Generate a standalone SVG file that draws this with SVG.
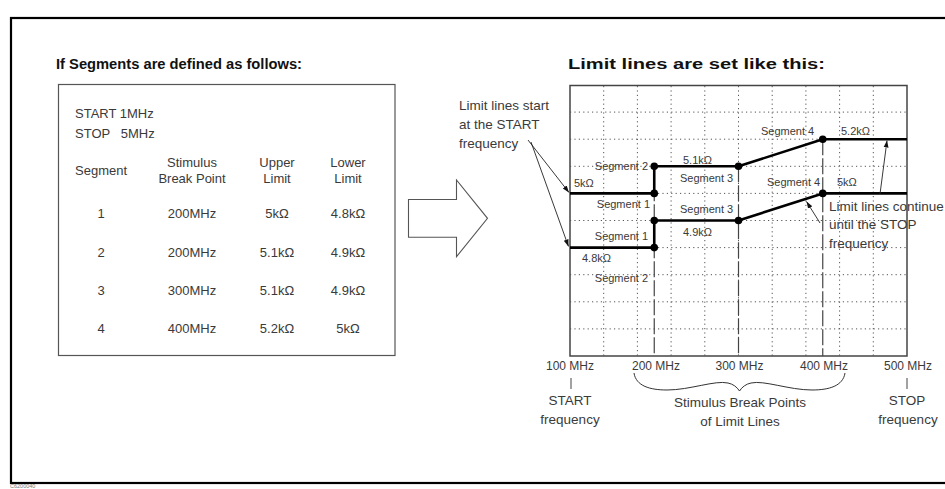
<svg xmlns="http://www.w3.org/2000/svg" width="945" height="489" viewBox="0 0 945 489">
<defs>
<marker id="ah" viewBox="0 0 10 10" refX="10" refY="5" markerWidth="7" markerHeight="7" orient="auto" markerUnits="userSpaceOnUse"><path d="M0,1.5 L10,5 L0,8.5 z" fill="#111"/></marker>
<style>
text{font-family:"Liberation Sans",Arial,sans-serif;fill:#3a3a3a}
.title{font-size:14.5px;font-weight:bold;fill:#111}
.tb{font-size:13px}
.c{text-anchor:middle}
.e{text-anchor:end}
.sm{font-size:11px}
.note{font-size:13.5px}
.ax{font-size:12px}
.grid{stroke:#555;stroke-width:1;stroke-dasharray:1.2 3.2;fill:none}
.brk{stroke:#444;stroke-width:1.2;stroke-dasharray:16 3;fill:none}
.lim{stroke:#000;stroke-width:2.6;fill:none;stroke-linejoin:round}
.ptr{stroke:#222;stroke-width:0.9;fill:none;marker-end:url(#ah)}
.dot{fill:#000}
</style>
</defs>
<rect x="0" y="0" width="945" height="489" fill="#fff"/>
<rect x="11" y="18" width="940" height="465" fill="none" stroke="#000" stroke-width="2.2"/>
<text x="10" y="488" style="font-size:5.5px;fill:#777">C6200040</text>

<text class="title" x="56" y="69" textLength="246" lengthAdjust="spacingAndGlyphs">If Segments are defined as follows:</text>
<text class="title" x="568" y="69" textLength="257" lengthAdjust="spacingAndGlyphs">Limit lines are set like this:</text>

<g id="segment-table">
<rect x="58.5" y="84.5" width="336.5" height="271" fill="none" stroke="#555" stroke-width="1.2"/>
<text class="tb" x="75" y="118">START 1MHz</text>
<text class="tb" x="75" y="138" xml:space="preserve">STOP   5MHz</text>
<text class="tb" x="75" y="175">Segment</text>
<text class="tb c" x="192" y="167">Stimulus</text>
<text class="tb c" x="192" y="183">Break Point</text>
<text class="tb c" x="277" y="167">Upper</text>
<text class="tb c" x="277" y="183">Limit</text>
<text class="tb c" x="348" y="167">Lower</text>
<text class="tb c" x="348" y="183">Limit</text>
<text class="tb c" x="101" y="218">1</text><text class="tb c" x="192" y="218">200MHz</text><text class="tb c" x="277" y="218">5kΩ</text><text class="tb c" x="348" y="218">4.8kΩ</text>
<text class="tb c" x="101" y="257">2</text><text class="tb c" x="192" y="257">200MHz</text><text class="tb c" x="277" y="257">5.1kΩ</text><text class="tb c" x="348" y="257">4.9kΩ</text>
<text class="tb c" x="101" y="295">3</text><text class="tb c" x="192" y="295">300MHz</text><text class="tb c" x="277" y="295">5.1kΩ</text><text class="tb c" x="348" y="295">4.9kΩ</text>
<text class="tb c" x="101" y="333">4</text><text class="tb c" x="192" y="333">400MHz</text><text class="tb c" x="277" y="333">5.2kΩ</text><text class="tb c" x="348" y="333">5kΩ</text>
</g>

<g id="big-arrow">
<path d="M408.5,199.5 H456.5 V180 L487.5,218.3 L456.5,256.7 V237.3 H408.5 Z" fill="#fff" stroke="#555" stroke-width="1.1"/>
</g>

<g id="chart">
<rect x="570" y="85.5" width="337" height="270.5" fill="none" stroke="#444" stroke-width="1.5"/>
<path class="grid" d="M603.7,86V356 M637.4,86V356 M671.1,86V356 M704.8,86V356 M738.5,86V356 M772.2,86V356 M805.9,86V356 M839.6,86V356 M873.3,86V356"/>
<path class="grid" d="M570,112.1H907 M570,139.2H907 M570,166.3H907 M570,193.4H907 M570,220.5H907 M570,247.6H907 M570,274.7H907 M570,301.8H907 M570,328.9H907"/>
<path class="brk" d="M654.25,166.3V356 M738.5,166.3V356 M822.75,139.2V356"/>
</g>

<g id="upper-limit">
<path class="lim" d="M570,193.4 H654.25 V166.3 H738.5 L822.75,139.2 H907"/>
<circle class="dot" cx="654.25" cy="193.4" r="3.8"/>
<circle class="dot" cx="654.25" cy="166.3" r="3.8"/>
<circle class="dot" cx="738.5" cy="166.3" r="3.8"/>
<circle class="dot" cx="822.75" cy="139.2" r="3.8"/>
</g>
<g id="lower-limit">
<path class="lim" d="M570,247.6 H654.25 V220.5 H738.5 L822.75,193.4 H907"/>
<circle class="dot" cx="654.25" cy="247.6" r="3.8"/>
<circle class="dot" cx="654.25" cy="220.5" r="3.8"/>
<circle class="dot" cx="738.5" cy="220.5" r="3.8"/>
<circle class="dot" cx="822.75" cy="193.4" r="3.8"/>
</g>

<g id="chart-labels">
<text class="sm e" x="648" y="170">Segment 2</text>
<text class="sm" x="574" y="187">5kΩ</text>
<text class="sm e" x="650" y="208">Segment 1</text>
<text class="sm" x="683" y="164">5.1kΩ</text>
<text class="sm" x="680" y="182">Segment 3</text>
<text class="sm" x="761" y="135">Segment 4</text>
<text class="sm" x="841" y="135">5.2kΩ</text>
<text class="sm" x="767" y="186">Segment 4</text>
<text class="sm" x="837" y="186">5kΩ</text>
<text class="sm" x="680" y="213">Segment 3</text>
<text class="sm" x="683" y="236">4.9kΩ</text>
<text class="sm e" x="648" y="240">Segment 1</text>
<text class="sm" x="582" y="262">4.8kΩ</text>
<text class="sm e" x="648" y="282">Segment 2</text>
</g>

<g id="start-note">
<text class="note" x="459" y="110">Limit lines start</text>
<text class="note" x="459" y="129">at the START</text>
<text class="note" x="459" y="148">frequency</text>
</g>
<g id="stop-note">
<text class="note" x="829" y="211">Limit lines continue</text>
<text class="note" x="829" y="229">until the STOP</text>
<text class="note" x="829" y="248">frequency</text>
</g>

<g id="connectors">
<line class="ptr" x1="528" y1="140" x2="569" y2="192.5"/>
<line class="ptr" x1="531" y1="142" x2="568.5" y2="246.5"/>
<line class="ptr" x1="880" y1="194" x2="887" y2="140.5"/>
<line class="ptr" x1="820" y1="223" x2="806.5" y2="201.5"/>
</g>

<g id="axis">
<text class="ax c" x="570" y="370">100 MHz</text>
<text class="ax c" x="656" y="370">200 MHz</text>
<text class="ax c" x="739.5" y="370">300 MHz</text>
<text class="ax c" x="824" y="370">400 MHz</text>
<text class="ax c" x="908" y="370">500 MHz</text>
<path d="M571,378V389 M907,378V389" stroke="#444" stroke-width="1"/>
<text class="note c" x="570" y="405">START</text>
<text class="note c" x="570" y="424">frequency</text>
<text class="note c" x="907" y="405">STOP</text>
<text class="note c" x="908" y="424">frequency</text>
<path d="M634,373 C636,386 650,390 667,390 C690,390 715,380 728,383 C733,384 737,387 739.5,391 C742,387 746,384 751,383 C764,380 789,390 812,390 C829,390 843,386 845,373" fill="none" stroke="#333" stroke-width="1"/>
<text class="note c" x="740" y="407">Stimulus Break Points</text>
<text class="note c" x="740" y="426">of Limit Lines</text>
</g>
</svg>
